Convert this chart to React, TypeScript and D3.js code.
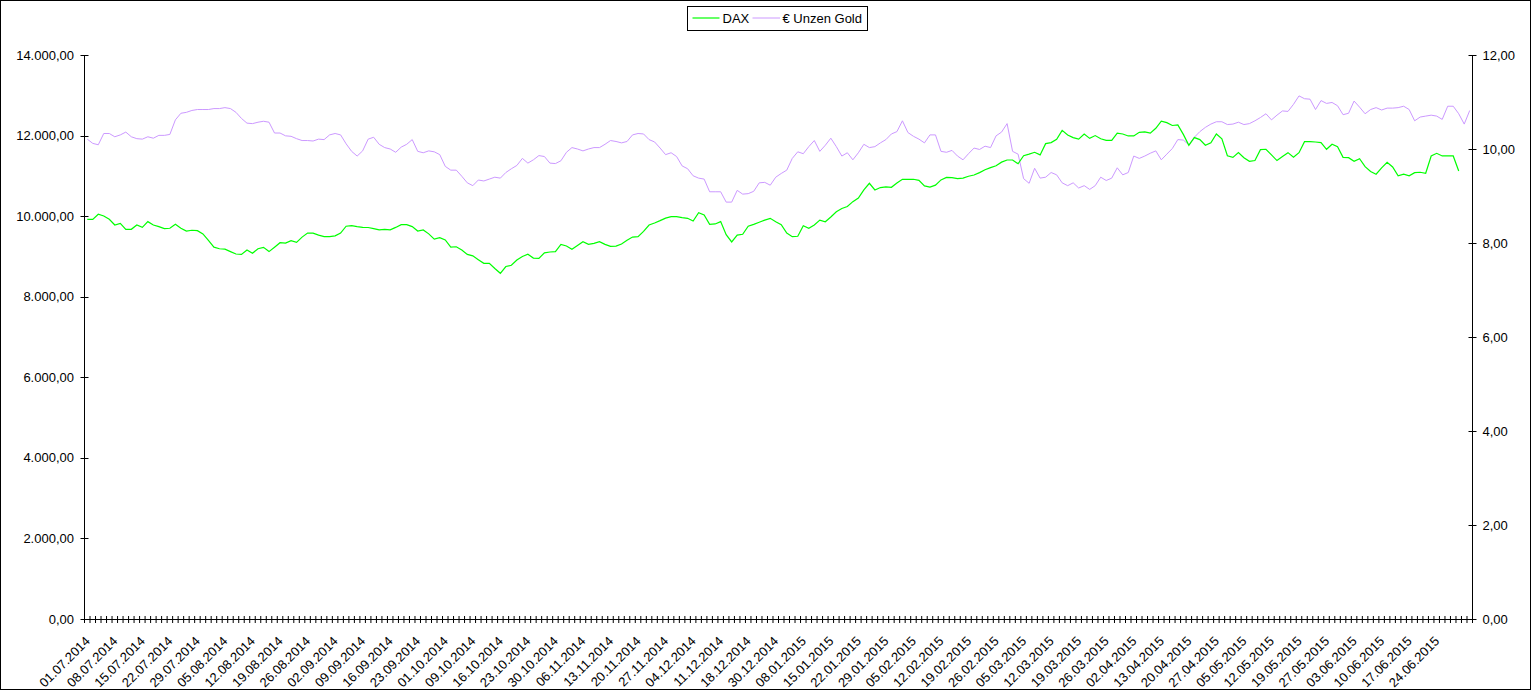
import React from "react";
import * as d3 from "d3";

// ---------- DATA ----------
const tickLabels: string[] = [
  "01.07.2014", "08.07.2014", "15.07.2014", "22.07.2014", "29.07.2014", "05.08.2014",
  "12.08.2014", "19.08.2014", "26.08.2014", "02.09.2014", "09.09.2014", "16.09.2014",
  "23.09.2014", "01.10.2014", "09.10.2014", "16.10.2014", "23.10.2014", "30.10.2014",
  "06.11.2014", "13.11.2014", "20.11.2014", "27.11.2014", "04.12.2014", "11.12.2014",
  "18.12.2014", "30.12.2014", "08.01.2015", "15.01.2015", "22.01.2015", "29.01.2015",
  "05.02.2015", "12.02.2015", "19.02.2015", "26.02.2015", "05.03.2015", "12.03.2015",
  "19.03.2015", "26.03.2015", "02.04.2015", "13.04.2015", "20.04.2015", "27.04.2015",
  "05.05.2015", "12.05.2015", "19.05.2015", "27.05.2015", "03.06.2015", "10.06.2015",
  "17.06.2015", "24.06.2015",
];
const categoryCount = 252;
const labelEvery = 5;

const daxValues: number[] = [
  9921, 9921, 10046, 10004, 9921, 9781, 9822, 9673, 9673, 9781,
  9723, 9864, 9781, 9740, 9690, 9700, 9797, 9700, 9630,
  9650, 9640, 9560, 9400, 9230, 9190, 9180, 9120, 9060, 9050,
  9160, 9080, 9190, 9226, 9120, 9230, 9340, 9330, 9392, 9350,
  9480, 9580, 9580, 9530, 9491, 9491, 9510, 9580, 9750,
  9764, 9740, 9720, 9718, 9690, 9660, 9670, 9660, 9720, 9790,
  9790, 9740, 9630, 9657, 9560, 9430, 9466, 9410, 9230, 9240,
  9160, 9050, 9015, 8920, 8829, 8829, 8700, 8581, 8750, 8780,
  8910, 9000, 9053, 8960, 8950, 9090, 9110, 9119, 9300,
  9260, 9177, 9270, 9367, 9301, 9326, 9367, 9300, 9250, 9255,
  9310, 9400, 9480, 9491, 9620, 9780, 9830, 9888, 9950, 9988,
  9988, 9965, 9946, 9880, 10087, 10029, 9797, 9806, 9864,
  9540, 9360, 9530, 9549, 9750, 9797, 9850, 9900, 9946, 9860,
  9790, 9580, 9491, 9500, 9760, 9700, 9780, 9900, 9860, 9980,
  10110, 10190, 10240, 10360, 10450, 10650, 10815, 10650, 10710,
  10725, 10716, 10820, 10915, 10915, 10915, 10890, 10750, 10720, 10770,
  10900, 10960, 10956, 10930, 10945, 10990, 11020, 11080, 11150, 11204,
  11250, 11340, 11394, 11394, 11300, 11500, 11540, 11585, 11520,
  11800, 11825, 11907, 12130, 12015, 11950, 11910, 12040, 11930, 12000,
  11920, 11880, 11880, 12060, 12040, 11990, 11990, 12080, 12090, 12060,
  12180, 12360, 12320, 12250, 12263, 12030, 11760, 11950, 11900,
  11760, 11820, 12040, 11920, 11500, 11460, 11580, 11450, 11360, 11380,
  11650, 11660, 11520, 11380, 11480, 11576, 11460, 11576, 11849, 11849,
  11840, 11825, 11660, 11783, 11725, 11460, 11452, 11360, 11427,
  11229, 11110, 11040, 11200, 11336, 11220, 11000, 11040, 11000, 11080,
  11090, 11065, 11494, 11560, 11494, 11494, 11494, 11121,
];

const goldValues: number[] = [
  10.21, 10.12, 10.09, 10.33, 10.33, 10.26, 10.30, 10.36, 10.26, 10.22,
  10.21, 10.26, 10.23, 10.29, 10.29, 10.31, 10.62, 10.76, 10.78,
  10.82, 10.84, 10.84, 10.84, 10.86, 10.86, 10.88, 10.86, 10.78, 10.65,
  10.55, 10.54, 10.57, 10.59, 10.57, 10.34, 10.34, 10.28, 10.27, 10.22,
  10.18, 10.18, 10.17, 10.21, 10.20, 10.30, 10.33, 10.30, 10.11,
  9.95, 9.85, 9.96, 10.21, 10.25, 10.10, 10.03, 10.00, 9.93, 10.04,
  10.10, 10.20, 9.95, 9.92, 9.96, 9.94, 9.88, 9.63, 9.55, 9.55,
  9.42, 9.28, 9.22, 9.34, 9.32, 9.36, 9.40, 9.38, 9.50, 9.58,
  9.65, 9.80, 9.70, 9.77, 9.86, 9.84, 9.70, 9.69, 9.75,
  9.93, 10.03, 10.00, 9.96, 10.00, 10.03, 10.03, 10.10, 10.18, 10.16,
  10.13, 10.16, 10.30, 10.33, 10.32, 10.20, 10.15, 10.02, 9.88, 9.92,
  9.84, 9.64, 9.58, 9.43, 9.38, 9.36, 9.09, 9.09, 9.09,
  8.87, 8.87, 9.12, 9.04, 9.05, 9.10, 9.28, 9.29, 9.23, 9.40,
  9.48, 9.55, 9.80, 9.94, 9.90, 10.05, 10.18, 9.95, 10.08, 10.23,
  10.05, 9.85, 9.92, 9.77, 9.92, 10.10, 10.03, 10.05, 10.13,
  10.20, 10.32, 10.37, 10.60, 10.35, 10.27, 10.21, 10.13, 10.30, 10.30,
  9.95, 9.93, 9.97, 9.85, 9.77, 9.90, 10.02, 9.99, 10.06, 10.03,
  10.28, 10.36, 10.54, 9.95, 9.89, 9.37, 9.27, 9.59, 9.38,
  9.40, 9.50, 9.45, 9.28, 9.22, 9.28, 9.17, 9.22, 9.14, 9.22,
  9.40, 9.33, 9.38, 9.60, 9.45, 9.50, 9.85, 9.80, 9.85, 9.91,
  9.96, 9.77, 9.89, 10.01, 10.20, 10.19, 10.09, 10.25, 10.37,
  10.46, 10.53, 10.58, 10.58, 10.52, 10.53, 10.57, 10.52, 10.54, 10.60,
  10.67, 10.75, 10.62, 10.72, 10.81, 10.80, 10.95, 11.13, 11.07, 11.06,
  10.84, 11.03, 10.97, 10.99, 10.92, 10.73, 10.76, 11.02, 10.89, 10.75,
  10.84, 10.88, 10.83, 10.87, 10.87, 10.88, 10.91, 10.84, 10.60,
  10.68, 10.70, 10.72, 10.70, 10.63, 10.91, 10.91, 10.75, 10.53, 10.82,
];

const leftTicks: number[] = [0, 2000, 4000, 6000, 8000, 10000, 12000, 14000];
const rightTicks: number[] = [0, 2, 4, 6, 8, 10, 12];
const seriesNames: string[] = ["DAX", "€ Unzen Gold"];
const seriesColors: string[] = ["#00ff00", "#cc99ff"];

// ---------- LAYOUT ----------
const W = 1531;
const H = 690;
const plotLeft = 84.5;
const plotRight = 1472.5;
const plotTop = 55;
const plotBottom = 619;
const FONT = "'Liberation Sans', Arial, sans-serif";

const fmtLeft = (v: number) => {
  const s = d3.format(",.2f")(v);
  return s.replace(/,/g, "#").replace(".", ",").replace(/#/g, ".");
};
const fmtRight = (v: number) => d3.format(".2f")(v).replace(".", ",");

export default function App() {
  const x = d3.scaleLinear().domain([0, categoryCount]).range([plotLeft, plotRight]);
  const yL = d3.scaleLinear().domain([0, 14000]).range([plotBottom, plotTop]);
  const yR = d3.scaleLinear().domain([0, 12]).range([plotBottom, plotTop]);

  const daxLine = d3
    .line<number>()
    .x((_, i) => x(i + 0.5))
    .y((d) => yL(d));
  const goldLine = d3
    .line<number>()
    .x((_, i) => x(i + 0.5))
    .y((d) => yR(d));

  const boundaries = d3.range(categoryCount + 1);

  return (
    <div style={{ width: W, height: H }}>
      <style>{`body{margin:0;overflow:hidden}`}</style>
      <svg width={W} height={H} style={{ display: "block", fontFamily: FONT }}>
        <rect x={0} y={0} width={W} height={H} fill="#ffffff" />
        <rect x={0.5} y={0.5} width={W - 1} height={H - 1} fill="none" stroke="#000" strokeWidth={1} />

        {/* series */}
        <path d={goldLine(goldValues) || ""} fill="none" stroke={seriesColors[1]} strokeWidth={1} />
        <path d={daxLine(daxValues) || ""} fill="none" stroke={seriesColors[0]} strokeWidth={1.2} />

        {/* left axis */}
        <line x1={plotLeft} x2={plotLeft} y1={plotTop} y2={plotBottom} stroke="#000" />
        {leftTicks.map((t) => (
          <g key={"l" + t}>
            <line x1={plotLeft - 4} x2={plotLeft + 4} y1={Math.round(yL(t)) + 0.5} y2={Math.round(yL(t)) + 0.5} stroke="#000" />
            <text x={74} y={yL(t)} dy="0.35em" textAnchor="end" fontSize={13} fill="#000">
              {fmtLeft(t)}
            </text>
          </g>
        ))}

        {/* right axis */}
        <line x1={plotRight} x2={plotRight} y1={plotTop} y2={plotBottom} stroke="#000" />
        {rightTicks.map((t) => (
          <g key={"r" + t}>
            <line x1={plotRight - 4} x2={plotRight + 4} y1={Math.round(yR(t)) + 0.5} y2={Math.round(yR(t)) + 0.5} stroke="#000" />
            <text x={1482.5} y={yR(t)} dy="0.35em" textAnchor="start" fontSize={13} fill="#000">
              {fmtRight(t)}
            </text>
          </g>
        ))}

        {/* x axis */}
        <line x1={plotLeft} x2={plotRight} y1={plotBottom + 0.5} y2={plotBottom + 0.5} stroke="#000" />
        {boundaries.map((b) => (
          <line key={"b" + b} x1={x(b)} x2={x(b)} y1={plotBottom - 3} y2={plotBottom + 4} stroke="#000" />
        ))}
        {tickLabels.map((lab, k) => {
          const cx = x(k * labelEvery + 0.5);
          return (
            <text
              key={"x" + k}
              transform={`translate(${cx + 3.5},${642}) rotate(-45)`}
              textAnchor="end"
              fontSize={13}
              fill="#000"
            >
              {lab}
            </text>
          );
        })}

        {/* legend */}
        <rect x={687.5} y={6.5} width={180} height={24} fill="#fff" stroke="#000" />
        <line x1={692.5} x2={719.5} y1={18} y2={18} stroke={seriesColors[0]} strokeWidth={1.2} />
        <text x={722.5} y={23.3} fontSize={13} fill="#000">{seriesNames[0]}</text>
        <line x1={752.5} x2={780} y1={18} y2={18} stroke={seriesColors[1]} strokeWidth={1} />
        <text x={782.5} y={23.3} fontSize={13} fill="#000">{seriesNames[1]}</text>
      </svg>
    </div>
  );
}
